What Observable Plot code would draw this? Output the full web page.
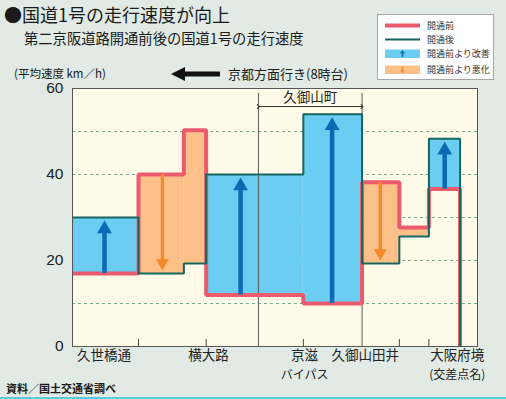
<!DOCTYPE html>
<html><head><meta charset="utf-8">
<script src="https://cdn.jsdelivr.net/npm/d3@7"></script>
<script src="https://cdn.jsdelivr.net/npm/@observablehq/plot@0.6"></script>
<style>
body{margin:0;background:#e1eae4;}
#wrap{position:relative;width:506px;height:399px;overflow:hidden;background:#e1eae4;font-family:"Noto Sans CJK JP",sans-serif;color:#1a1a1a;}
.t{position:absolute;white-space:nowrap;line-height:1;}
#chart{position:absolute;left:0;top:0;}
#legend{position:absolute;left:377px;top:14px;width:117px;height:66px;background:#fff;border:1px solid #a8a8a8;box-sizing:border-box;}
#legend .lt{position:absolute;left:49px;font-size:9px;line-height:1;color:#333;white-space:nowrap;}
#bottomline{position:absolute;left:0;top:397px;width:506px;height:2px;background:#5ccbe0;}
</style></head><body>
<div id="wrap">
  <div id="chart"></div>
  <div class="t" style="left:4px;top:5px;font-size:18px">●国道1号の走行速度が向上</div>
  <div class="t" style="left:24px;top:31px;font-size:14.3px">第二京阪道路開通前後の国道1号の走行速度</div>
  <div class="t" style="left:14px;top:67.5px;font-size:11.5px">(平均速度 km／h)</div>
  <svg style="position:absolute;left:170px;top:66px" width="52" height="16">
    <polygon points="1,8 15,1 15,15" fill="#111"/>
    <rect x="13" y="5.5" width="37" height="5" fill="#111"/>
  </svg>
  <div class="t" style="left:228px;top:66.8px;font-size:13px">京都方面行き(8時台)</div>
  <div id="legend">
    <svg style="position:absolute;left:0;top:0" width="117" height="66">
      <line x1="7" x2="42" y1="10.5" y2="10.5" stroke="#ec5a6e" stroke-width="4"/>
      <line x1="7" x2="42" y1="24.5" y2="24.5" stroke="#17655f" stroke-width="2"/>
      <rect x="7" y="34.5" width="35" height="8.5" fill="#6bcdf2"/>
      <line x1="24.5" x2="24.5" y1="42" y2="38" stroke="#0b6ab4" stroke-width="1.6"/>
      <polygon points="24.5,35 22,38.5 27,38.5" fill="#0b6ab4"/>
      <rect x="7" y="50.5" width="35" height="8.5" fill="#fcc088"/>
      <line x1="24.5" x2="24.5" y1="51.5" y2="55.5" stroke="#f58a2a" stroke-width="1.4"/>
      <polygon points="24.5,58.5 22.3,55 26.7,55" fill="#f58a2a"/>
    </svg>
    <div class="lt" style="top:6px">開通前</div>
    <div class="lt" style="top:20px">開通後</div>
    <div class="lt" style="top:34px">開通前より改善</div>
    <div class="lt" style="top:50px">開通前より悪化</div>
  </div>
  <div class="t" style="left:6px;top:383px;font-size:11px;font-weight:bold">資料／国土交通省調べ</div>
  <div id="bottomline"></div>
</div>
<script>
// position along route (arbitrary distance units, 0–100 across the frame)
const segStart = [0, 16.3, 27.5, 33.0, 57.0, 71.5, 80.7, 88.0];
const segEnd   = [16.3, 27.5, 33.0, 57.0, 71.5, 80.7, 88.0, 95.7];
const speedBefore = [17, 40, 50.3, 12, 10, 38.2, 27.7, 36.6];   // 開通前 km/h
const speedAfter  = [30, 17, 19.3, 40, 54, 19.3, 25.6, 48.3];   // 開通後 km/h
const prefBorder = 95.7;

const arrowX   = [7.9, 22.2, 41.5, 64.1, 76.0, 91.9];
const arrowSeg = [0, 1, 3, 4, 5, 7];

const tickPos = [16.3, 33.0, 57.0, 80.7, 88.0];
const dividerPos = [45.9, 71.5];
const spanLabel = "久御山町";
const spanLabelY = 57.9;
const spanArrowY = 55.8;

const placeLine1 = ["久世橋通", "横大路", "京滋", "久御山田井", "大阪府境"];
const placeLine2 = ["", "", "バイパス", "", "(交差点名)"];
const placePos   = [7.8, 33.6, 57.3, 72.3, 95.0];

const yTicks = [0, 20, 40, 60];
const gridY = [10, 20, 30, 40, 50];

const RED = "#ec5a6e", TEAL = "#17655f", BLUE = "#6bcdf2", ORANGE = "#fcc088";
const BLUE_A = "#0b6ab4", ORANGE_A = "#f58a2a";

const segments = segStart.map((s, i) => ({x0: s, x1: segEnd[i], before: speedBefore[i], after: speedAfter[i]}));
const beforeLine = segments.map(d => ({x: d.x0, y: d.before})).concat([{x: prefBorder, y: 0}]);
const afterLine  = segments.map(d => ({x: d.x0, y: d.after})).concat([{x: prefBorder, y: 0}]);
const arrows = arrowX.map((x, i) => ({x, from: speedBefore[arrowSeg[i]], to: speedAfter[arrowSeg[i]]}));
const up = arrows.filter(d => d.to > d.from), down = arrows.filter(d => d.to < d.from);
const places1 = placeLine1.map((n, i) => ({name: n, x: placePos[i]}));
const places2 = placeLine2.map((n, i) => ({name: n, x: placePos[i]})).filter(d => d.name);

const chart = Plot.plot({
  width: 506, height: 399,
  marginLeft: 72, marginRight: 29, marginTop: 88, marginBottom: 53,
  style: {background: "transparent", fontFamily: "'Noto Sans CJK JP', sans-serif"},
  x: {domain: [0, 100], axis: null},
  y: {domain: [0, 60], axis: null},
  marks: [
    Plot.frame({fill: "#fffbe8", stroke: null}),
    Plot.ruleY(gridY, {stroke: "#4e9a74", strokeDasharray: "3,3", strokeWidth: 0.8}),
    Plot.rect(segments, {x1: "x0", x2: "x1", y1: "before", y2: "after",
      fill: d => d.after > d.before ? BLUE : ORANGE}),
    Plot.ruleX(dividerPos, {stroke: "#555", strokeWidth: 1, insetTop: 5}),
    Plot.ruleX(tickPos, {stroke: "#444", strokeWidth: 1, insetTop: 251}),
    Plot.line(beforeLine, {x: "x", y: "y", curve: "step-after", stroke: RED, strokeWidth: 4, strokeLinejoin: "miter", strokeLinecap: "butt"}),
    Plot.line(afterLine, {x: "x", y: "y", curve: "step-after", stroke: TEAL, strokeWidth: 2, strokeLinejoin: "miter", strokeLinecap: "butt"}),
    Plot.ruleX(up, {x: "x", y1: "to", y2: "from", stroke: BLUE_A, strokeWidth: 4.5, insetTop: 10}),
    Plot.dot(up, {x: "x", y: "to", symbol: "triangle", r: 5.5, fill: BLUE_A, dy: 11.5}),
    Plot.ruleX(down, {x: "x", y1: "from", y2: "to", stroke: ORANGE_A, strokeWidth: 3.3, insetBottom: 10}),
    Plot.dot(down, {x: "x", y: "to", symbol: "triangle", r: 4.8, rotate: 180, fill: ORANGE_A, dy: -10.5}),
    Plot.link([{a: dividerPos[0], b: dividerPos[1], y: spanArrowY}], {x1: "a", x2: "b", y1: "y", y2: "y",
      stroke: "#333", strokeWidth: 1, markerStart: "arrow", markerEnd: "arrow"}),
    Plot.text([{x: (dividerPos[0] + dividerPos[1]) / 2, y: spanLabelY, t: spanLabel}], {x: "x", y: "y", text: "t", fontSize: 13.5, fill: "#222"}),
    Plot.frame({stroke: "#555", strokeWidth: 1}),
    Plot.axisY({ticks: yTicks, tickSize: 0, tickPadding: 9, fontSize: 15.5, fill: "#222", label: null, fontFamily: "Liberation Sans, sans-serif"}),
    Plot.text(places1, {x: "x", text: "name", frameAnchor: "bottom", dy: 13, fontSize: 13.5, fill: "#222"}),
    Plot.text(places2, {x: "x", text: "name", frameAnchor: "bottom", dy: 32, fontSize: 12, fill: "#222"})
  ]
});
document.getElementById("chart").appendChild(chart);
</script>
</body></html>
